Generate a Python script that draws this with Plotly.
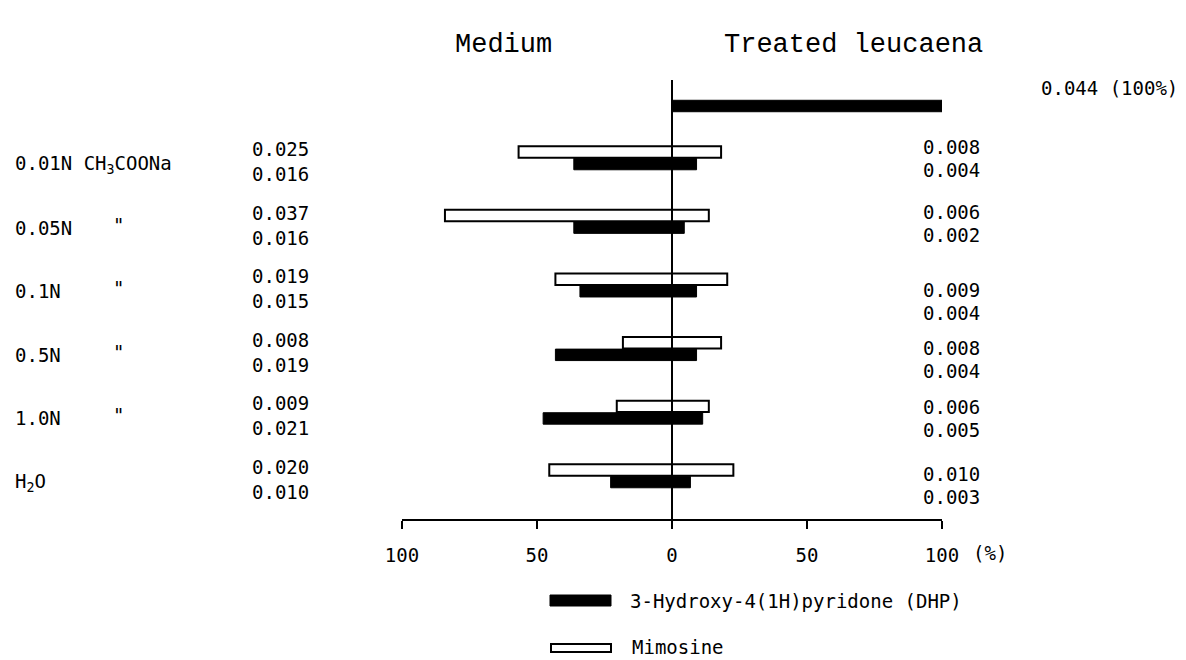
import plotly.graph_objects as go

# ---------------- data ----------------
conditions = ["0.01N CH<sub>3</sub>COONa", "0.05N", "0.1N", "0.5N", "1.0N", "H<sub>2</sub>O"]
ditto_marks = ["", '"', '"', '"', '"', ""]
medium_mimosine = [0.025, 0.037, 0.019, 0.008, 0.009, 0.020]
medium_dhp = [0.016, 0.016, 0.015, 0.019, 0.021, 0.010]
leucaena_mimosine = [0.008, 0.006, 0.009, 0.008, 0.006, 0.010]
leucaena_dhp = [0.004, 0.002, 0.004, 0.004, 0.005, 0.003]
reference_dhp = 0.044          # untreated leucaena DHP = 100 %
tick_values = [-100, -50, 0, 50, 100]
tick_labels = ["100", "50", "0", "50", "100"]

# ---------------- geometry (screen px of the reference; page has 8px body margin) ----------------
W, H = 1186, 660
PAGE = 8
X0_SCR, X100_SCR = 402, 942      # screen px of -100 and +100
TOP_SCR, BOT_SCR = 80, 519       # top of zero line, axis line
L = X0_SCR - PAGE
R = W - (X100_SCR - PAGE)
T = TOP_SCR - PAGE
B = H - (BOT_SCR - PAGE)
PLOT_W = X100_SCR - X0_SCR
PLOT_H = BOT_SCR - TOP_SCR
ROW0_PX, ROW_PX = 158.0, 63.6


def ypx(py):
    return (py - ROW0_PX) / ROW_PX


def xpaper(px):
    return (px - X0_SCR) / PLOT_W


def ypaper(py):
    return (BOT_SCR - py) / PLOT_H


def pct(v):
    return v / reference_dhp * 100.0


n = len(conditions)
rows = list(range(n))
BAR_W = 0.18
OFF = 0.095
y_mim = [r - OFF for r in rows]
y_dhp = [r + OFF for r in rows]
y_top = ypx(106)

FONT = "DejaVu Sans Mono"
TFONT = "Liberation Mono"
FS = 19

fig = go.Figure()

mim_style = dict(color="white", line=dict(color="black", width=2))
dhp_style = dict(color="black", line=dict(color="black", width=1))

fig.add_trace(go.Bar(orientation="h", y=y_mim, x=[-pct(v) for v in medium_mimosine],
                     width=BAR_W, marker=mim_style, name="Mimosine"))
fig.add_trace(go.Bar(orientation="h", y=y_mim, x=[pct(v) for v in leucaena_mimosine],
                     width=BAR_W, marker=mim_style, name="Mimosine"))
fig.add_trace(go.Bar(orientation="h", y=y_dhp, x=[-pct(v) for v in medium_dhp],
                     width=BAR_W, marker=dhp_style, name="DHP"))
fig.add_trace(go.Bar(orientation="h", y=y_dhp, x=[pct(v) for v in leucaena_dhp],
                     width=BAR_W, marker=dhp_style, name="DHP"))
fig.add_trace(go.Bar(orientation="h", y=[y_top], x=[pct(reference_dhp)],
                     width=BAR_W, marker=dhp_style, name="DHP reference"))

ann = []


def text(x_px, y_scr, s, size=FS, anchor="center", font=FONT):
    ann.append(dict(x=xpaper(x_px), xref="paper", y=ypaper(y_scr), yref="paper", text=s,
                    showarrow=False, xanchor=anchor, yanchor="middle",
                    font=dict(family=font, size=size, color="black")))


right_shift = [-11, -10, 5, -1, -5, -2]

for i in rows:
    yc = ROW0_PX + ROW_PX * i
    text(13, yc + 6, conditions[i], anchor="left")
    if ditto_marks[i]:
        text(118, yc + 3, ditto_marks[i])
    text(280, yc - 9, f"{medium_mimosine[i]:.3f}")
    text(280, yc + 16, f"{medium_dhp[i]:.3f}")
    text(951, yc + right_shift[i], f"{leucaena_mimosine[i]:.3f}")
    text(951, yc + right_shift[i] + 23, f"{leucaena_dhp[i]:.3f}")

text(1180, 88, f"{reference_dhp:.3f} (100%)", anchor="right")

text(503, 45, "Medium", size=27, font=TFONT)
text(853, 45, "Treated leucaena", size=27, font=TFONT)
text(990, 553, "(%)")

text(628, 601, "3-Hydroxy-4(1H)pyridone (DHP)", anchor="left")
text(630, 647, "Mimosine", anchor="left")

shapes = [
    dict(type="line", xref="x", yref="paper", x0=0, x1=0, y0=ypaper(523), y1=1,
         line=dict(color="black", width=2), layer="above"),
    dict(type="rect", xref="paper", yref="paper",
         x0=xpaper(550), x1=xpaper(611), y0=ypaper(606), y1=ypaper(595),
         fillcolor="black", line=dict(color="black", width=1)),
    dict(type="rect", xref="paper", yref="paper",
         x0=xpaper(551), x1=xpaper(611), y0=ypaper(652), y1=ypaper(644),
         fillcolor="white", line=dict(color="black", width=2)),
]

fig.update_layout(
    width=W, height=H,
    margin=dict(l=L, r=R, t=T, b=B, pad=0),
    paper_bgcolor="white", plot_bgcolor="white",
    barmode="overlay", showlegend=False,
    annotations=ann, shapes=shapes,
    xaxis=dict(range=[-100, 100], tickvals=tick_values, ticktext=tick_labels,
               showline=True, linecolor="black", linewidth=2,
               ticks="outside", ticklen=8, tickwidth=2, tickcolor="black",
               ticklabelstandoff=10,
               showgrid=False, zeroline=False,
               tickfont=dict(family=FONT, size=FS, color="black")),
    yaxis=dict(range=[ypx(BOT_SCR), ypx(TOP_SCR)], visible=False, showgrid=False, zeroline=False),
)

fig.write_html("out.html")
